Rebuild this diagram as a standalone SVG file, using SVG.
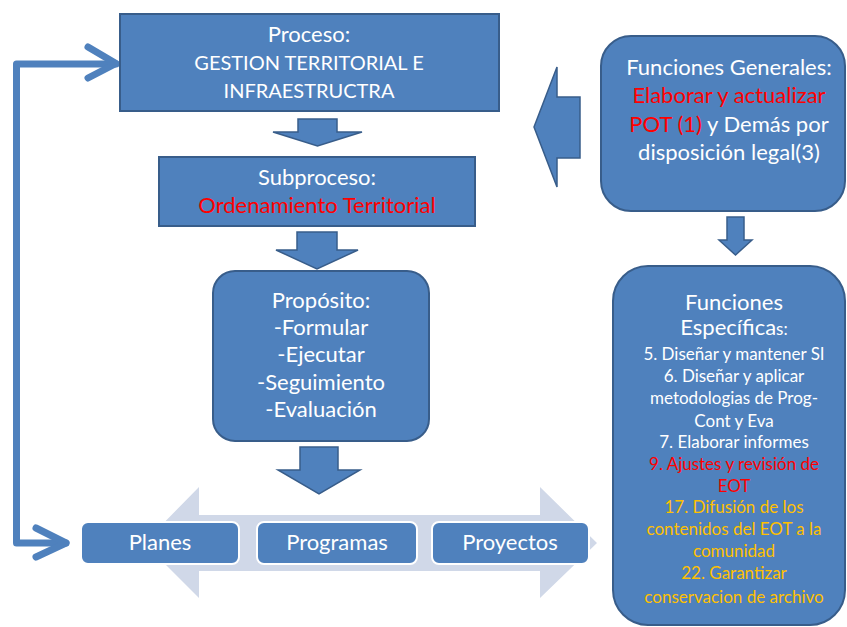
<svg xmlns="http://www.w3.org/2000/svg" width="847" height="627" viewBox="0 0 847 627">
<style>
.box{fill:#4F81BD;stroke:#385D8A;stroke-width:2}
.item{fill:#4F81BD;stroke:#FFFFFF;stroke-width:2}
.arr{fill:#4F81BD;stroke:#385D8A;stroke-width:1.5}
.t{font-family:Lato,"Open Sans",sans-serif;fill:#FFFFFF;text-anchor:middle}
.big{font-size:22px}
.caps{font-size:20px}
.sm{font-size:17px}
.red{fill:#FF0000}
.yel{fill:#FFC000}
.loop{fill:none;stroke:#4F81BD;stroke-width:7;stroke-linecap:round;stroke-linejoin:round}
</style>
<rect width="847" height="627" fill="#FFFFFF"/>
<g id="connectors">
<polygon points="144,543 199,487 199,515 540,515 540,487 597,543 540,598 540,571 199,571 199,598" fill="#D0D8E8"/>
<path class="loop" d="M116 64 L16.5 64 L16.5 543 L66 543"/>
<path class="loop" d="M88 47 L116 63.5 L88 78"/>
<path class="loop" d="M36 528 L66 543 L36 557"/>
<polygon class="arr" points="298,119 337,119 337,132 362,132 317.5,146 273,132 298,132"/>
<polygon class="arr" points="297,232 337,232 337,250 358,250 317,269 276,250 297,250"/>
<polygon class="arr" points="300,447 338,447 338,470 360,470 319,494 278,470 300,470"/>
<polygon class="arr" points="534,127 557,67 557,97 580,97 580,158 557,158 557,187"/>
<polygon class="arr" points="727,217 744,217 744,240 752,240 735.5,255 719,240 727,240"/>
</g>
<g id="proceso">
<rect class="box" x="120" y="14" width="379" height="97"/>
<text class="t big" x="309" y="42">Proceso:</text>
<text class="t caps" x="309" y="70">GESTION TERRITORIAL E</text>
<text class="t caps" x="309" y="98">INFRAESTRUCTRA</text>
</g>
<g id="subproceso">
<rect class="box" x="159" y="157" width="316" height="69"/>
<text class="t big" x="317" y="185">Subproceso:</text>
<text class="t big red" x="317" y="213">Ordenamiento Territorial</text>
</g>
<g id="proposito">
<rect class="box" x="213" y="271" width="216" height="170" rx="22"/>
<text class="t big" x="321" y="308">Propósito:</text>
<text class="t big" x="321" y="335">-Formular</text>
<text class="t big" x="321" y="362">-Ejecutar</text>
<text class="t big" x="321" y="390">-Seguimiento</text>
<text class="t big" x="321" y="417">-Evaluación</text>
</g>
<g id="planes">
<rect class="item" x="81" y="522" width="158" height="42" rx="7"/>
<text class="t big" x="160" y="550">Planes</text>
</g>
<g id="programas">
<rect class="item" x="257" y="522" width="160" height="42" rx="7"/>
<text class="t big" x="337" y="550">Programas</text>
</g>
<g id="proyectos">
<rect class="item" x="432" y="522" width="157" height="42" rx="7"/>
<text class="t big" x="510" y="550">Proyectos</text>
</g>
<g id="funciones-generales">
<rect class="box" x="601" y="36" width="244" height="175" rx="30"/>
<text class="t big" x="729" y="75">Funciones Generales:</text>
<text class="t big red" x="729" y="103">Elaborar y actualizar</text>
<text class="t big" x="729" y="132"><tspan class="red">POT (1)</tspan> y Demás por</text>
<text class="t big" x="729" y="160">disposición legal(3)</text>
</g>
<g id="funciones-especificas">
<rect class="box" x="613" y="266" width="232" height="359" rx="35"/>
<text class="t big" x="734" y="310">Funciones</text>
<text class="t big" x="734" y="335">Específica<tspan class="sm">s:</tspan></text>
<text class="t sm" x="734" y="360">5. Diseñar y mantener SI</text>
<text class="t sm" x="734" y="382">6. Diseñar y aplicar</text>
<text class="t sm" x="734" y="404">metodologias de  Prog-</text>
<text class="t sm" x="734" y="427">Cont y Eva</text>
<text class="t sm" x="734" y="448">7. Elaborar informes</text>
<text class="t sm red" x="734" y="470">9. Ajustes y revisión de</text>
<text class="t sm red" x="734" y="492">EOT</text>
<text class="t sm yel" x="734" y="513">17. Difusión de los</text>
<text class="t sm yel" x="734" y="535">contenidos del EOT a la</text>
<text class="t sm yel" x="734" y="557">comunidad</text>
<text class="t sm yel" x="734" y="579">22. Garantizar</text>
<text class="t sm yel" x="734" y="603">conservacion de archivo</text>
</g>
</svg>
